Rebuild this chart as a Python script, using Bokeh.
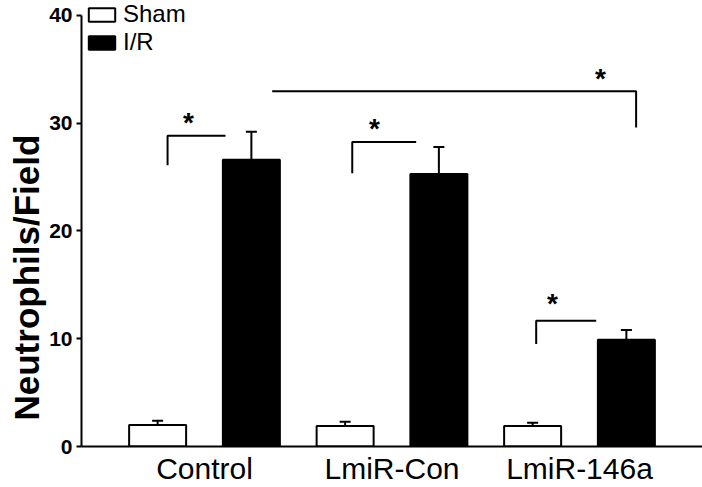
from bokeh.plotting import figure
from bokeh.models import (Range1d, FixedTicker, Whisker, TeeHead, ColumnDataSource,
                          Legend, LegendItem, Title)
from bokeh.core.properties import value
from bokeh.embed import file_html
from bokeh.resources import INLINE

categories = ["Control", "LmiR-Con", "LmiR-146a"]
sham_mean = [2.0, 1.9, 1.9]
sham_err = [0.4, 0.4, 0.3]
ir_mean = [26.6, 25.3, 9.9]
ir_err = [2.6, 2.5, 0.9]
y_ticks = [0, 10, 20, 30, 40]

# significance brackets (x, y in data units)
bracket_xs = [[-0.197, -0.197, 0.112], [0.788, 0.788, 1.129],
              [1.769, 1.769, 2.089], [0.361, 2.302, 2.302]]
bracket_ys = [[26.1, 28.85, 28.85], [25.35, 28.27, 28.27],
              [9.52, 11.68, 11.68], [32.97, 32.97, 29.6]]
star_x = [-0.085, 0.907, 1.856, 2.112]
star_y = [30.03, 29.48, 13.26, 34.16]

FONT = "Liberation Sans"
OFF = 0.25
BW = 0.304

idx = list(range(len(categories)))
src_s = ColumnDataSource(dict(x=[i - OFF for i in idx], top=sham_mean,
                              upper=[m + e for m, e in zip(sham_mean, sham_err)]))
src_i = ColumnDataSource(dict(x=[i + OFF for i in idx], top=ir_mean,
                              upper=[m + e for m, e in zip(ir_mean, ir_err)]))

p = figure(width=702, height=487, x_range=Range1d(-0.656, 2.656), y_range=Range1d(0, 41.39),
           output_backend="svg", toolbar_location=None,
           min_border_left=81, min_border_right=0, min_border_top=0, min_border_bottom=40)
p.outline_line_color = None
p.xgrid.visible = False
p.ygrid.visible = False
p.background_fill_color = "white"

r_s = p.vbar(x="x", top="top", width=BW, bottom=0, source=src_s,
             fill_color="white", line_color="black", line_width=2)
r_i = p.vbar(x="x", top="top", width=BW, bottom=0, source=src_i,
             fill_color="black", line_color="black", line_width=2)

for src in (src_s, src_i):
    w = Whisker(source=src, base="x", lower="top", upper="upper", dimension="height",
                line_width=2, line_color="black",
                upper_head=TeeHead(size=11, line_width=2, line_color="black"), lower_head=None)
    p.add_layout(w)

p.multi_line(xs=bracket_xs, ys=bracket_ys, line_color="black", line_width=2)
p.text(x=star_x, y=star_y, text=["*"] * len(star_x), text_font=value(FONT),
       text_font_size="28px", text_font_style="bold", text_align="center",
       text_baseline="middle", text_color="black")

# x axis
p.xaxis.ticker = FixedTicker(ticks=idx)
p.xaxis.major_label_overrides = {i: c for i, c in zip(idx, categories)}
p.xaxis.major_tick_out = 0
p.xaxis.major_tick_in = 0
p.xaxis.minor_tick_out = 0
p.xaxis.minor_tick_in = 0
p.xaxis.major_label_text_font = FONT
p.xaxis.major_label_text_font_size = "30px"
p.xaxis.major_label_text_color = "black"
p.xaxis.major_label_standoff = 5
p.xaxis.axis_line_width = 2
p.xaxis.axis_line_color = "black"

# y axis
p.yaxis.ticker = FixedTicker(ticks=y_ticks)
p.yaxis.bounds = (0, 40)
p.yaxis.major_tick_out = 5
p.yaxis.major_tick_in = 0
p.yaxis.minor_tick_out = 0
p.yaxis.minor_tick_in = 0
p.yaxis.major_tick_line_width = 2
p.yaxis.major_label_text_font = FONT
p.yaxis.major_label_text_font_size = "21px"
p.yaxis.major_label_text_font_style = "bold"
p.yaxis.major_label_text_color = "black"
p.yaxis.major_label_standoff = 4
p.yaxis.axis_line_width = 2
p.yaxis.axis_line_color = "black"

# y-axis title, placed from the bottom like the reference
ytitle = Title(text="Neutrophils/Field", align="left", offset=26, standoff=-2,
               vertical_align="top",
               text_font=FONT, text_font_size="35px", text_font_style="bold",
               text_color="black")
p.add_layout(ytitle, "left")

legend = Legend(items=[LegendItem(label="Sham", renderers=[r_s]),
                       LegendItem(label="I/R", renderers=[r_i])],
                location=(4, 390), glyph_width=33, glyph_height=17,
                label_text_font=FONT, label_text_font_size="24px", label_text_color="black",
                label_standoff=5, spacing=-4, padding=0, margin=0,
                border_line_alpha=0, background_fill_alpha=0, label_height=17)
p.add_layout(legend)

open("out.html", "w").write(file_html(p, INLINE))
